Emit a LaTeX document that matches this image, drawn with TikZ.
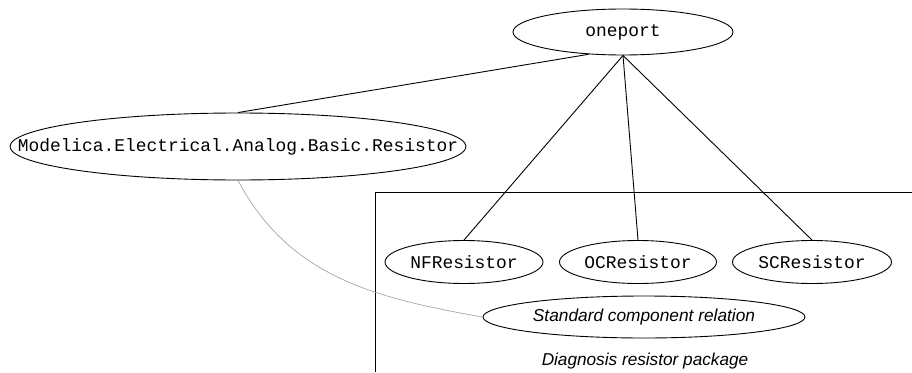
\documentclass[tikz,border=0pt]{standalone}
\usepackage{fontspec}
\setmonofont{Liberation Mono}
\setsansfont{Liberation Sans}
\usetikzlibrary{shapes.geometric}

\begin{document}
\begin{tikzpicture}[x=1pt, y=-1pt, line width=0.9pt,
        cls/.style={ellipse, draw, inner sep=0pt,
            font=\fontsize{17.9}{20}\selectfont\ttfamily},
        rel/.style={ellipse, draw, inner sep=0pt,
            font=\fontsize{17.3}{20}\selectfont\sffamily\itshape}]
        \useasboundingbox (0,0) rectangle (912,372);

        % Package frame (runs off the page)
        \draw (375,372) |- (912,192);
        \node[font=\fontsize{17.2}{20}\selectfont\sffamily\itshape] (pkg) at (645,361) {Diagnosis resistor package};

        % Classes
        \node[cls, minimum width=220, minimum height=46] (oneport) at (623,32) {\makebox[0pt]{oneport}};
        \node[cls, minimum width=456, minimum height=67] (modelica) at (238,146.5) {\makebox[0pt]{Modelica.Electrical.Analog.Basic.Resistor}};
        \node[cls, minimum width=158, minimum height=43] (nfres) at (464,262) {\makebox[0pt]{NFResistor}};
        \node[cls, minimum width=157, minimum height=43] (ocres) at (638,262) {\makebox[0pt]{OCResistor}};
        \node[cls, minimum width=159, minimum height=43] (scres) at (812,262) {\makebox[0pt]{SCResistor}};
        \node[rel, minimum width=322, minimum height=42] (stdrel) at (644,317) {\makebox[0pt]{Standard component relation}};

        % Inheritance
        \draw (oneport.213) -- (modelica.north);
        \foreach \c in {nfres,ocres,scres} {
            \draw (oneport.south) -- (\c.north);
        }

        % Relation link
        \draw[gray!70, line width=0.7pt] (modelica.south) to[out=-62, in=170] (stdrel.west);
    \end{tikzpicture}
\end{document}
